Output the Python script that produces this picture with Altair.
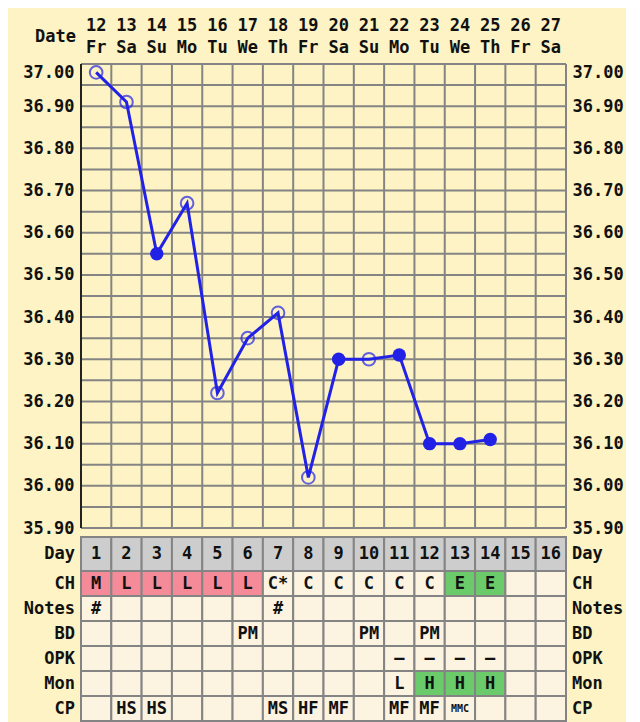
import altair as alt
import pandas as pd

# ---------------- data ----------------
days = list(range(1, 17))
dates = ["12", "13", "14", "15", "16", "17", "18", "19", "20", "21", "22", "23", "24", "25", "26", "27"]
weekdays = ["Fr", "Sa", "Su", "Mo", "Tu", "We", "Th", "Fr", "Sa", "Su", "Mo", "Tu", "We", "Th", "Fr", "Sa"]

temp_days = list(range(1, 15))
temps = [36.98, 36.91, 36.55, 36.67, 36.22, 36.35, 36.41, 36.02, 36.30, 36.30, 36.31, 36.10, 36.10, 36.11]
filled = [False, False, True, False, False, False, False, False, True, False, True, True, True, True]

y_labels = [35.90, 36.00, 36.10, 36.20, 36.30, 36.40, 36.50, 36.60, 36.70, 36.80, 36.90, 37.00]
y_grid = [35.90, 35.95, 36.00, 36.05, 36.10, 36.15, 36.20, 36.25, 36.30, 36.35, 36.40, 36.45,
          36.50, 36.55, 36.60, 36.65, 36.70, 36.75, 36.80, 36.85, 36.90, 36.95, 37.00]
x_grid = [0, 1, 2, 3, 4, 5, 6, 7, 8, 9, 10, 11, 12, 13, 14, 15, 16]

row_names = ["Day", "CH", "Notes", "BD", "OPK", "Mon", "CP"]
row_heights = [34, 25, 25, 25, 25, 25, 25]
day_labels = [str(d) for d in days]
ch = ["M", "L", "L", "L", "L", "L", "C*", "C", "C", "C", "C", "C", "E", "E", "", ""]
notes = ["#", "", "", "", "", "", "#", "", "", "", "", "", "", "", "", ""]
bd = ["", "", "", "", "", "PM", "", "", "", "PM", "", "PM", "", "", "", ""]
opk = ["", "", "", "", "", "", "", "", "", "", "–", "–", "–", "–", "", ""]
mon = ["", "", "", "", "", "", "", "", "", "", "L", "H", "H", "H", "", ""]
cp = ["", "HS", "HS", "", "", "", "MS", "HF", "MF", "", "MF", "MF", "MMC", "", "", ""]

# ---------------- style ----------------
BG = "#FDF3C4"
CELL = "#FCF3E1"
GREY = "#CDCDCD"
PINK = "#F58A98"
GREEN = "#6BCB6B"
GRID = "#848484"
BLUE = "#2222E6"
INK = "#111111"
FONT = "DejaVu Sans Mono"
FS = 17
W = 485
H_TOP = 464
H_TAB = sum(row_heights)

# ---------------- temperature chart ----------------
tdf = pd.DataFrame({"x": [d - 0.5 for d in temp_days], "temp": temps, "filled": filled})
ddf = pd.DataFrame({"x": [d - 0.5 for d in days], "date": dates, "wd": weekdays})
hgrid = pd.DataFrame({"v": y_grid})
vgrid = pd.DataFrame({"v": x_grid})

xscale = alt.Scale(domain=[0, 16], nice=False, zero=False)
yscale = alt.Scale(domain=[35.9, 37.0], nice=False, zero=False)

baseline_cond = {"condition": {"test": "datum.value > 36.99", "value": "top"}, "value": "middle"}

left_axis = alt.Axis(
    values=y_labels, format=".2f",
    grid=False, ticks=False, domain=False,
    labelFont=FONT, labelFontWeight="bold", labelFontSize=FS, labelColor=INK,
    labelPadding=7, title=None, labelBaseline=baseline_cond,
)
right_axis = alt.Axis(
    orient="right",
    values=y_labels, format=".2f",
    grid=False, ticks=False, domain=False,
    labelFont=FONT, labelFontWeight="bold", labelFontSize=FS, labelColor=INK,
    labelPadding=6, title=None, labelBaseline=baseline_cond,
)

hrules = alt.Chart(hgrid).mark_rule(color=GRID, strokeWidth=2).encode(
    y=alt.Y("v:Q", scale=yscale, axis=left_axis))
vrules = alt.Chart(vgrid).mark_rule(strokeWidth=2).encode(
    x=alt.X("v:Q", scale=xscale, axis=None),
    color=alt.condition("datum.v == 0", alt.value("#222222"), alt.value(GRID)),
)

base = alt.Chart(tdf)
line = base.mark_line(color=BLUE, strokeWidth=3).encode(
    x=alt.X("x:Q", scale=xscale, axis=None),
    y=alt.Y("temp:Q", scale=yscale),
)
open_pts = base.transform_filter("!datum.filled").mark_point(
    filled=False, color=BLUE, strokeWidth=2, size=160, shape="circle"
).encode(x=alt.X("x:Q", scale=xscale), y=alt.Y("temp:Q", scale=yscale))
full_pts = base.transform_filter("datum.filled").mark_circle(
    color=BLUE, size=180, opacity=1
).encode(x=alt.X("x:Q", scale=xscale), y=alt.Y("temp:Q", scale=yscale))

date_txt = alt.Chart(ddf).mark_text(font=FONT, fontWeight="bold", fontSize=FS, color=INK).encode(
    x=alt.X("x:Q", scale=xscale), y=alt.value(-38), text="date:N")
wd_txt = alt.Chart(ddf).mark_text(font=FONT, fontWeight="bold", fontSize=FS, color=INK).encode(
    x=alt.X("x:Q", scale=xscale), y=alt.value(-16), text="wd:N")
date_title = alt.Chart(pd.DataFrame({"t": ["Date"]})).mark_text(
    font=FONT, fontWeight="bold", fontSize=FS, color=INK, align="right"
).encode(x=alt.value(-5), y=alt.value(-27), text="t:N")

left_group = alt.layer(hrules, vrules, line, open_pts, full_pts, date_txt, wd_txt, date_title)
right_layer = base.mark_point(opacity=0).encode(
    x=alt.X("x:Q", scale=xscale),
    y=alt.Y("temp:Q", scale=yscale, axis=right_axis),
)
top = alt.layer(left_group, right_layer).resolve_scale(y="independent").properties(
    width=W, height=H_TOP)

# ---------------- table chart ----------------
row_values = [day_labels, ch, notes, bd, opk, mon, cp]
recs = []
lab = []
y0 = 0
for name, h, vals in zip(row_names, row_heights, row_values):
    for d, v in zip(days, vals):
        if name == "Day":
            fill = GREY
        elif name == "CH" and v in ("M", "L"):
            fill = PINK
        elif (name == "CH" and v == "E") or (name == "Mon" and v == "H"):
            fill = GREEN
        else:
            fill = CELL
        fs = 10 if len(v) >= 3 else FS
        recs.append({"row": name, "x0": d - 1, "x1": d, "xc": d - 0.5, "y0": y0, "y1": y0 + h,
                     "yc": y0 + h / 2, "label": v, "fill": fill, "fs": fs})
    lab.append({"name": name, "yc": y0 + h / 2})
    y0 += h
tab = pd.DataFrame(recs)
labdf = pd.DataFrame(lab)

tyscale = alt.Scale(domain=[0, H_TAB], reverse=True, nice=False, zero=False)

cells = alt.Chart(tab).mark_rect(stroke=GRID, strokeWidth=2).encode(
    x=alt.X("x0:Q", scale=xscale, axis=None), x2="x1:Q",
    y=alt.Y("y0:Q", scale=tyscale, axis=None), y2="y1:Q",
    fill=alt.Fill("fill:N", scale=None),
)
cell_txt = alt.Chart(tab).mark_text(font=FONT, fontWeight="bold", color=INK).encode(
    x=alt.X("xc:Q", scale=xscale), y=alt.Y("yc:Q", scale=tyscale),
    text="label:N", size=alt.Size("fs:Q", scale=None),
)
lab_left = alt.Chart(labdf).mark_text(font=FONT, fontWeight="bold", fontSize=FS, color=INK,
                                      align="right").encode(
    x=alt.value(-6), y=alt.Y("yc:Q", scale=tyscale), text="name:N")
lab_right = alt.Chart(labdf).mark_text(font=FONT, fontWeight="bold", fontSize=FS, color=INK,
                                       align="left").encode(
    x=alt.value(W + 6), y=alt.Y("yc:Q", scale=tyscale), text="name:N")

table = alt.layer(cells, cell_txt, lab_left, lab_right).properties(width=W, height=H_TAB)

chart = alt.vconcat(top, table, spacing=0).properties(
    background=BG,
    padding={"left": 14, "top": 9, "right": 2, "bottom": 0},
).configure_view(stroke=None)

chart.save("out.html", embed_options={"renderer": "svg", "actions": False})
